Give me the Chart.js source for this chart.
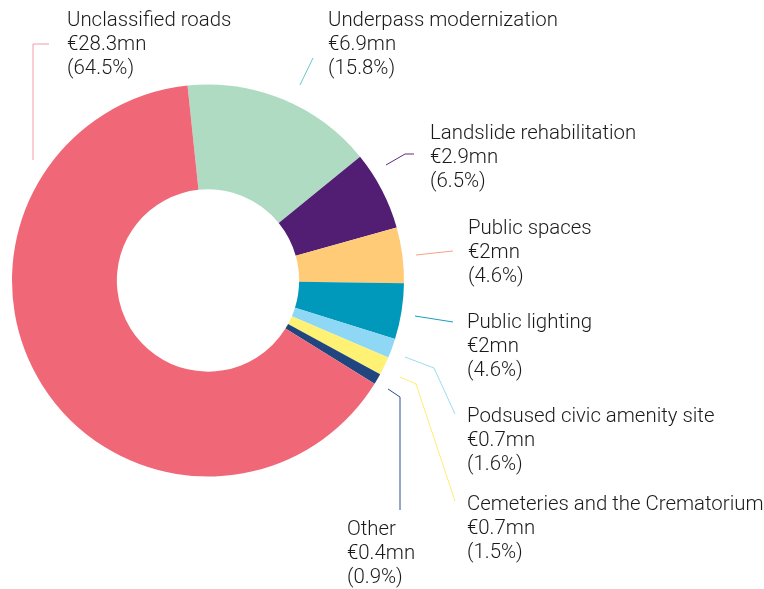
<!DOCTYPE html>
<html>
<head>
<meta charset="utf-8">
<script src="https://cdn.jsdelivr.net/npm/chart.js@4/dist/chart.umd.min.js"></script>
<style>
  html, body { margin: 0; padding: 0; background: #ffffff; }
  #wrap { width: 764px; height: 589px; position: relative; }
</style>
</head>
<body>
<div id="wrap"><canvas id="c" width="764" height="589"></canvas></div>
<script>
// ---- Data (clockwise order, starting at top) ----
const categories = [
  "Underpass modernization",
  "Landslide rehabilitation",
  "Public spaces",
  "Public lighting",
  "Podsused civic amenity site",
  "Cemeteries and the Crematorium",
  "Other",
  "Unclassified roads"
];
const amountsMn = ["6.9", "2.9", "2", "2", "0.7", "0.7", "0.4", "28.3"];
const sharePct = [15.8, 6.5, 4.6, 4.6, 1.6, 1.5, 0.9, 64.5];

// ---- Styles ----
const sliceColors = ["#AEDBC2", "#521E73", "#FFCB77", "#0099BB", "#8FD8F5", "#FFF173", "#21467F", "#F06878"];
const lineColors  = ["#66CACA", "#5E2C80", "#F5A384", "#1A9DBE", "#9ADBF5", "#FFEE70", "#2A4C8C", "#F49AA4"];

// label layout: text x, first baseline y, leader polyline points
const labelLayout = [
  { x: 328, y: 26,  line: [[300, 85], [313, 58]] },
  { x: 430, y: 139, line: [[386, 165], [405, 154], [414, 154]] },
  { x: 468, y: 234, line: [[416, 255], [453, 251]] },
  { x: 467, y: 328, line: [[415, 316], [453, 322]] },
  { x: 467, y: 422, line: [[405, 357], [434, 368], [455, 414]] },
  { x: 467, y: 510, line: [[400, 377], [416, 384], [455, 501]] },
  { x: 347, y: 535, line: [[388, 389], [400, 397], [400, 510]] },
  { x: 67,  y: 26,  line: [[33, 160], [33, 44], [49, 44]] }
];
const FONT = '300 20.4px Roboto';
const LINE_H = 24;

const labelPlugin = {
  id: 'leaderLabels',
  afterDraw(chart) {
    const ctx = chart.ctx;
    ctx.save();
    categories.forEach((name, i) => {
      const L = labelLayout[i];
      ctx.beginPath();
      ctx.strokeStyle = lineColors[i];
      ctx.lineWidth = 1;
      L.line.forEach((p, k) => { if (k === 0) ctx.moveTo(p[0], p[1]); else ctx.lineTo(p[0], p[1]); });
      ctx.stroke();
      ctx.fillStyle = '#1a1a1a';
      ctx.font = FONT;
      ctx.textBaseline = 'alphabetic';
      ctx.textAlign = 'left';
      const lines = [name, '€' + amountsMn[i] + 'mn', '(' + sharePct[i] + '%)'];
      lines.forEach((t, k) => ctx.fillText(t, L.x, L.y + k * LINE_H));
    });
    ctx.restore();
  }
};

new Chart(document.getElementById('c'), {
  type: 'doughnut',
  data: {
    labels: categories,
    datasets: [{
      data: sharePct,
      backgroundColor: sliceColors,
      borderWidth: 0,
      hoverOffset: 0
    }]
  },
  options: {
    responsive: false,
    animation: false,
    rotation: -6,
    cutout: '46.5%',
    layout: { padding: { left: 12, right: 360, top: 84, bottom: 112 } },
    plugins: { legend: { display: false }, tooltip: { enabled: false } }
  },
  plugins: [labelPlugin]
});
</script>
</body>
</html>
